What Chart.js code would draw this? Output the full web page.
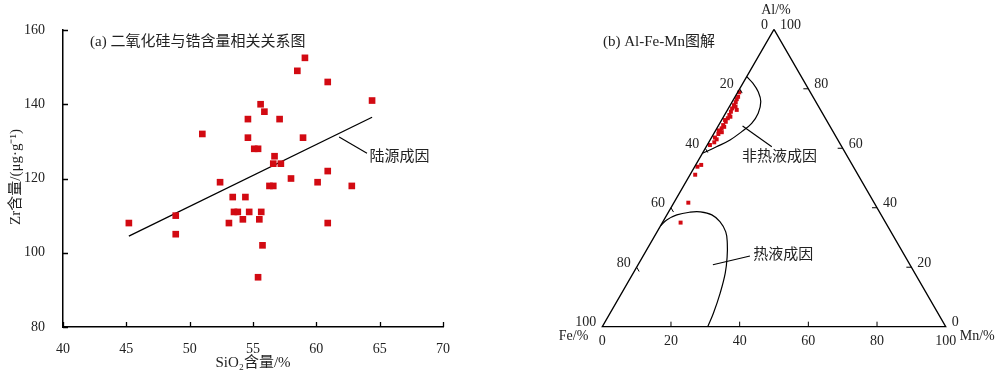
<!DOCTYPE html>
<html>
<head>
<meta charset="utf-8">
<script src="https://cdn.jsdelivr.net/npm/chart.js@4.4.0/dist/chart.umd.min.js"></script>
<style>
    html, body { margin: 0; padding: 0; background: #fff; }
    #wrap { position: relative; width: 1000px; height: 375px; }
    #left { position: absolute; left: 0; top: 0; }
    #right { position: absolute; left: 500px; top: 0; }
</style>
</head>
<body>
<div id="wrap">
    <canvas id="left" width="500" height="375"></canvas>
    <canvas id="right" width="500" height="375"></canvas>
</div>
<script>
// ---- (a) SiO2 vs Zr ----
const sio2 = [45.2, 48.9, 48.9, 51.0, 52.4, 53.1, 53.4, 53.5, 53.8, 54.2, 54.4, 54.6, 54.6, 54.7, 55.1, 55.4, 55.5, 55.4, 55.6,
    55.65, 55.75, 55.9, 56.3, 56.6, 56.6, 56.7, 57.1, 57.2, 58.0, 58.5, 58.95, 59.1, 60.1, 60.9, 60.9, 60.9, 62.8, 64.4];
const zr = [108, 110, 105, 132, 119, 108, 115, 111, 111, 109, 115, 136, 131, 111, 128, 128, 109, 93.4, 140,
    111, 102, 138, 118, 118, 124, 126, 136, 124, 120, 149, 131, 152.5, 119, 122, 108, 146, 118, 141];
const trendSio2 = [45.2, 64.4];
const trendZr = [104.5, 136.5];
const leaderSio2 = [61.8, 64.0];
const leaderZr = [131.2, 126.8];
const sio2Ticks = [40, 45, 50, 55, 60, 65, 70];
const zrTicks = [80, 100, 120, 140, 160];

// ---- (b) Al-Fe-Mn ternary, percent (Fe = 100 - Al - Mn) ----
const sampleAl = [78.8, 77.3, 76.5, 75.5, 74.5, 74.0, 72.9, 73.4, 72.3, 71.2, 70.6, 70.1, 69.5, 68.9, 67.8, 67.2, 66.7, 66.0,
    65.6, 64.8, 65.4, 63.6, 63.0, 62.0, 61.1, 54.4, 53.8, 51.1, 41.7, 35.0];
const sampleMn = [0.5, 0.9, 0.9, 1.1, 1.1, 1.8, 2.7, 1.1, 1.3, 1.4, 2.0, 1.5, 1.0, 1.5, 1.3, 1.9, 1.4, 0.9,
    1.5, 1.4, 2.1, 1.0, 1.8, 1.6, 0.8, 1.6, 0.8, 1.5, 4.2, 5.3];
const nonHydroAl = [84.1, 81.8, 79.0, 75.7, 71.8, 68.4, 65.6, 62.8, 60.5, 58.3];
const nonHydroMn = [0, 3.0, 5.9, 8.3, 9.5, 9.3, 7.8, 5.8, 3.0, 0];
const hydroAl = [33.9, 35.9, 37.6, 38.5, 38.6, 37.6, 35.3, 31.9, 28.0, 23.5, 18.0, 11.2, 4.5, 0];
const hydroMn = [0, 0.8, 2.9, 6.3, 9.2, 13.1, 16.6, 20.0, 22.4, 24.6, 26.8, 28.7, 30.1, 30.7];
const edgeAl = [100, 0, 0, 100];
const edgeMn = [0, 0, 100, 0];
const nonHydroLeaderAl = [67.5, 60.5];
const nonHydroLeaderMn = [7.1, 19.1];
const hydroLeaderAl = [20.8, 23.8];
const hydroLeaderMn = [21.8, 31.1];
const ternTicks = [0, 20, 40, 60, 80, 100];

const RED = '#d20a12';
const SERIF = "'Liberation Serif', 'Noto Sans CJK SC', serif";
const H = Math.sqrt(3) / 2;

const zip = (xs, ys) => xs.map((v, i) => ({ x: v, y: ys[i] }));
// ternary composition -> cartesian
const tern = (al, mn) => ({ x: mn / 100 + al / 200, y: al / 100 * H });
const ternLine = (als, mns) => als.map((a, i) => tern(a, mns[i]));

const lineDs = (data, extra) => Object.assign({
    type: 'scatter', data, showLine: true, borderColor: '#000', borderWidth: 1.3,
    pointRadius: 0, fill: false
}, extra || {});

// ---- left chart ----
const leftDecor = {
    id: 'leftDecor',
    afterDraw(chart) {
        const { ctx, chartArea: a, scales: { x, y } } = chart;
        ctx.save();
        ctx.strokeStyle = '#000';
        ctx.lineWidth = 1.3;
        ctx.beginPath();
        sio2Ticks.forEach(v => {
            const px = Math.round(x.getPixelForValue(v)) + 0.5;
            ctx.moveTo(px, a.bottom);
            ctx.lineTo(px, a.bottom - 5);
        });
        zrTicks.forEach(v => {
            const py = Math.round(y.getPixelForValue(v)) + 0.5;
            ctx.moveTo(a.left, py);
            ctx.lineTo(a.left + 5, py);
        });
        ctx.stroke();

        ctx.fillStyle = '#222';
        ctx.font = '15px ' + SERIF;
        ctx.textBaseline = 'middle';
        ctx.textAlign = 'left';
        ctx.fillText('(a) 二氧化硅与锆含量相关关系图', 90, 42);
        ctx.fillText('陆源成因', x.getPixelForValue(64.2), y.getPixelForValue(125.8));

        ctx.textAlign = 'center';
        ctx.fillText('SiO₂含量/%', 253, 363);

        ctx.translate(16, 177);
        ctx.rotate(-Math.PI / 2);
        ctx.fillText('Zr含量/(μg·g⁻¹)', 0, 0);
        ctx.restore();
    }
};

new Chart(document.getElementById('left'), {
    type: 'scatter',
    data: {
        datasets: [
            {
                data: zip(sio2, zr), backgroundColor: RED, borderWidth: 0,
                pointStyle: 'rect', pointRadius: 4.7
            },
            lineDs(zip(trendSio2, trendZr)),
            lineDs(zip(leaderSio2, leaderZr), { borderWidth: 1.1 })
        ]
    },
    options: {
        responsive: false,
        animation: false,
        layout: { autoPadding: false, padding: { left: 0, top: 30, right: 57, bottom: 0 } },
        plugins: { legend: { display: false }, tooltip: { enabled: false } },
        scales: {
            x: {
                min: 40, max: 70,
                grid: { display: false },
                border: { display: true, color: '#000', width: 1.5 },
                ticks: { stepSize: 5, padding: 6, color: '#222', font: { family: SERIF, size: 14 } },
                afterFit: s => { s.height = 48; }
            },
            y: {
                min: 80, max: 160,
                grid: { display: false },
                border: { display: true, color: '#000', width: 1.5 },
                ticks: { stepSize: 20, padding: 10, color: '#222', font: { family: SERIF, size: 14 } },
                afterFit: s => { s.width = 63; }
            }
        }
    },
    plugins: [leftDecor]
});

// ---- right chart (ternary) ----
const ternDecor = {
    id: 'ternDecor',
    afterDraw(chart) {
        const { ctx, scales: { x, y } } = chart;
        const P = (al, mn) => {
            const c = tern(al, mn);
            return { x: x.getPixelForValue(c.x), y: y.getPixelForValue(c.y) };
        };
        ctx.save();
        ctx.strokeStyle = '#000';
        ctx.lineWidth = 1;
        ctx.beginPath();
        ternTicks.slice(1, -1).forEach(v => {
            let p = P(0, v);            // bottom, Mn
            ctx.moveTo(p.x, p.y);
            ctx.lineTo(p.x, p.y - 5);
            p = P(100 - v, 0);          // left, Fe
            ctx.moveTo(p.x, p.y);
            ctx.lineTo(p.x + 2.5, p.y + 4.3);
            p = P(v, 100 - v);          // right, Al
            ctx.moveTo(p.x, p.y);
            ctx.lineTo(p.x - 5, p.y);
        });
        ctx.stroke();

        ctx.fillStyle = '#222';
        ctx.font = '14px ' + SERIF;
        ctx.textBaseline = 'middle';
        ternTicks.forEach(v => {
            let p = P(0, v);
            ctx.textAlign = 'center';
            ctx.fillText(String(v), p.x, p.y + 15);
            p = P(100 - v, 0);
            ctx.textAlign = 'right';
            ctx.fillText(String(v), p.x - 6, p.y - 4);
            p = P(v, 100 - v);
            ctx.textAlign = 'left';
            ctx.fillText(String(v), p.x + 6, p.y - 4);
        });

        const top = P(100, 0), bl = P(0, 0), br = P(0, 100);
        ctx.textAlign = 'center';
        ctx.fillText('Al/%', top.x + 2, top.y - 19);
        ctx.textAlign = 'right';
        ctx.fillText('Fe/%', bl.x - 14, bl.y + 10);
        ctx.textAlign = 'left';
        ctx.fillText('Mn/%', br.x + 14, br.y + 10);

        ctx.font = '15px ' + SERIF;
        ctx.fillText('(b) Al-Fe-Mn图解', 103, 42);
        let p = P(57.1, 12.1);
        ctx.fillText('非热液成因', p.x, p.y);
        p = P(24.1, 31.9);
        ctx.fillText('热液成因', p.x, p.y);
        ctx.restore();
    }
};

new Chart(document.getElementById('right'), {
    type: 'scatter',
    data: {
        datasets: [
            lineDs(ternLine(edgeAl, edgeMn), { borderWidth: 1.3 }),
            lineDs(ternLine(nonHydroAl, nonHydroMn), { tension: 0.4, borderWidth: 1.2 }),
            lineDs(ternLine(hydroAl, hydroMn), { tension: 0.4, borderWidth: 1.2 }),
            lineDs(ternLine(nonHydroLeaderAl, nonHydroLeaderMn), { borderWidth: 1.1 }),
            lineDs(ternLine(hydroLeaderAl, hydroLeaderMn), { borderWidth: 1.1 }),
            {
                data: ternLine(sampleAl, sampleMn), backgroundColor: RED, borderWidth: 0,
                pointStyle: 'rect', pointRadius: 2.8
            }
        ]
    },
    options: {
        responsive: false,
        animation: false,
        layout: { autoPadding: false, padding: 0 },
        plugins: { legend: { display: false }, tooltip: { enabled: false } },
        scales: {
            x: { type: 'linear', display: false, min: -0.2979, max: 1.1581 },
            y: { type: 'linear', display: false, min: -0.1407, max: 0.9514 }
        }
    },
    plugins: [ternDecor]
});
</script>
</body>
</html>
